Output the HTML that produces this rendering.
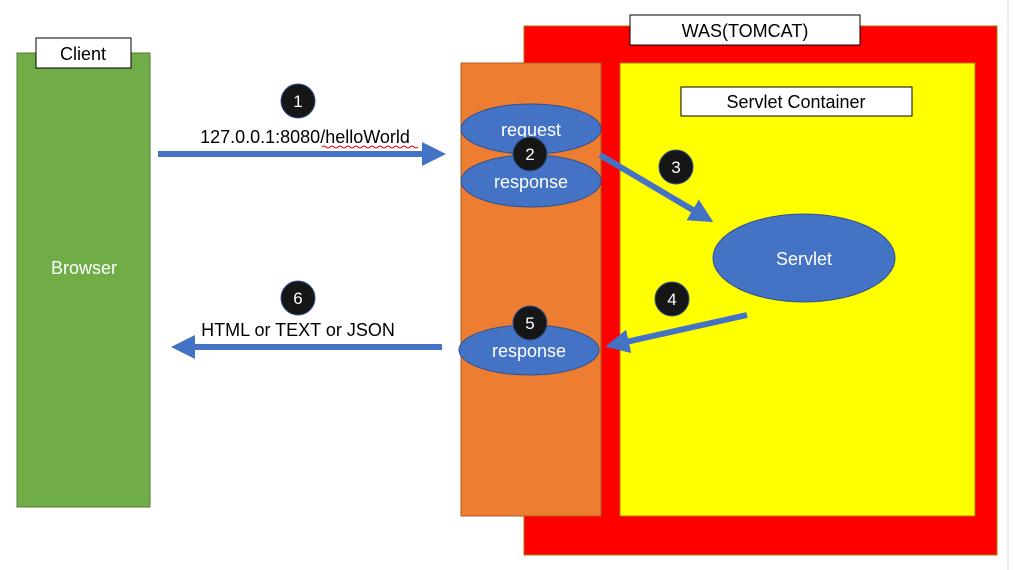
<!DOCTYPE html>
<html><head><meta charset="utf-8"><style>
html,body{margin:0;padding:0;background:#fff;width:1014px;height:570px;overflow:hidden}
svg text{font-family:"Liberation Sans","Noto Sans CJK KR",sans-serif}
</style></head><body>
<svg width="1014" height="570" viewBox="0 0 1014 570" xmlns="http://www.w3.org/2000/svg">
<defs>
<marker id="ah" markerWidth="4" markerHeight="4" refX="2" refY="2" orient="auto" markerUnits="strokeWidth">
<path d="M0,0 L4,2 L0,4 z" fill="#4472C4"/></marker>
</defs>
<line x1="1008" y1="0" x2="1008" y2="570" stroke="#ddd" stroke-width="1"/>
<!-- Client -->
<rect x="17" y="53" width="133" height="454" fill="#70AD47" stroke="#507E32"/>
<rect x="36" y="38" width="95" height="30" fill="#fff" stroke="#000"/>
<text x="83" y="60" font-size="18" text-anchor="middle" fill="#000">Client</text>
<text x="84" y="274" font-size="18" text-anchor="middle" fill="#fff">Browser</text>
<!-- WAS -->
<rect x="524" y="26" width="473" height="529" fill="#FF0000" stroke="#a08000"/>
<rect x="630" y="15" width="230" height="30" fill="#fff" stroke="#000"/>
<text x="745" y="37" font-size="18" text-anchor="middle" fill="#000">WAS(TOMCAT)</text>
<rect x="461" y="63" width="140" height="453" fill="#ED7D31" stroke="#AE5A21"/>
<rect x="620" y="63" width="355" height="453" fill="#FFFF00" stroke="#a08000"/>
<rect x="681" y="87" width="231" height="29" fill="#fff" stroke="#000"/>
<text x="796" y="108" font-size="18" text-anchor="middle" fill="#000">Servlet Container</text>
<!-- ellipses -->
<ellipse cx="531" cy="129" rx="70" ry="25" fill="#4472C4" stroke="#2F528F"/>
<text x="531" y="136" font-size="18" text-anchor="middle" fill="#fff">request</text>
<ellipse cx="531" cy="181" rx="70" ry="26" fill="#4472C4" stroke="#2F528F"/>
<text x="531" y="188" font-size="18" text-anchor="middle" fill="#fff">response</text>
<ellipse cx="804" cy="258" rx="91" ry="44" fill="#4472C4" stroke="#2F528F"/>
<text x="804" y="265" font-size="18" text-anchor="middle" fill="#fff">Servlet</text>
<ellipse cx="529" cy="350" rx="70" ry="25" fill="#4472C4" stroke="#2F528F"/>
<text x="529" y="357" font-size="18" text-anchor="middle" fill="#fff">response</text>
<!-- arrows -->
<line x1="158" y1="154" x2="434" y2="154" stroke="#4472C4" stroke-width="6" marker-end="url(#ah)"/>
<line x1="600" y1="155" x2="703" y2="216" stroke="#4472C4" stroke-width="6" marker-end="url(#ah)"/>
<line x1="747" y1="315" x2="617" y2="344" stroke="#4472C4" stroke-width="6" marker-end="url(#ah)"/>
<line x1="442" y1="347" x2="183" y2="347" stroke="#4472C4" stroke-width="6" marker-end="url(#ah)"/>
<text x="305" y="143" font-size="18" text-anchor="middle" fill="#000">127.0.0.1:8080/helloWorld</text>
<path d="M322,147 q2,-2 4,0 t4,0 t4,0 t4,0 t4,0 t4,0 t4,0 t4,0 t4,0 t4,0 t4,0 t4,0 t4,0 t4,0 t4,0 t4,0 t4,0 t4,0 t4,0 t4,0 t4,0 t4,0 t4,0 t4,0" fill="none" stroke="#e00" stroke-width="1"/>
<text x="298" y="336" font-size="18" text-anchor="middle" fill="#000">HTML or TEXT or JSON</text>
<!-- number circles -->
<g font-size="17" text-anchor="middle" fill="#fff">
<circle cx="298" cy="101" r="17" fill="#161616" stroke="#2F528F"/><text x="298" y="107">1</text>
<circle cx="530" cy="154" r="17" fill="#161616" stroke="#2F528F"/><text x="530" y="160">2</text>
<circle cx="676" cy="167" r="17" fill="#161616" stroke="#2F528F"/><text x="676" y="173">3</text>
<circle cx="672" cy="299" r="17" fill="#161616" stroke="#2F528F"/><text x="672" y="305">4</text>
<circle cx="530" cy="323" r="17" fill="#161616" stroke="#2F528F"/><text x="530" y="329">5</text>
<circle cx="298" cy="298" r="17" fill="#161616" stroke="#2F528F"/><text x="298" y="304">6</text>
</g>
</svg>
</body></html>
